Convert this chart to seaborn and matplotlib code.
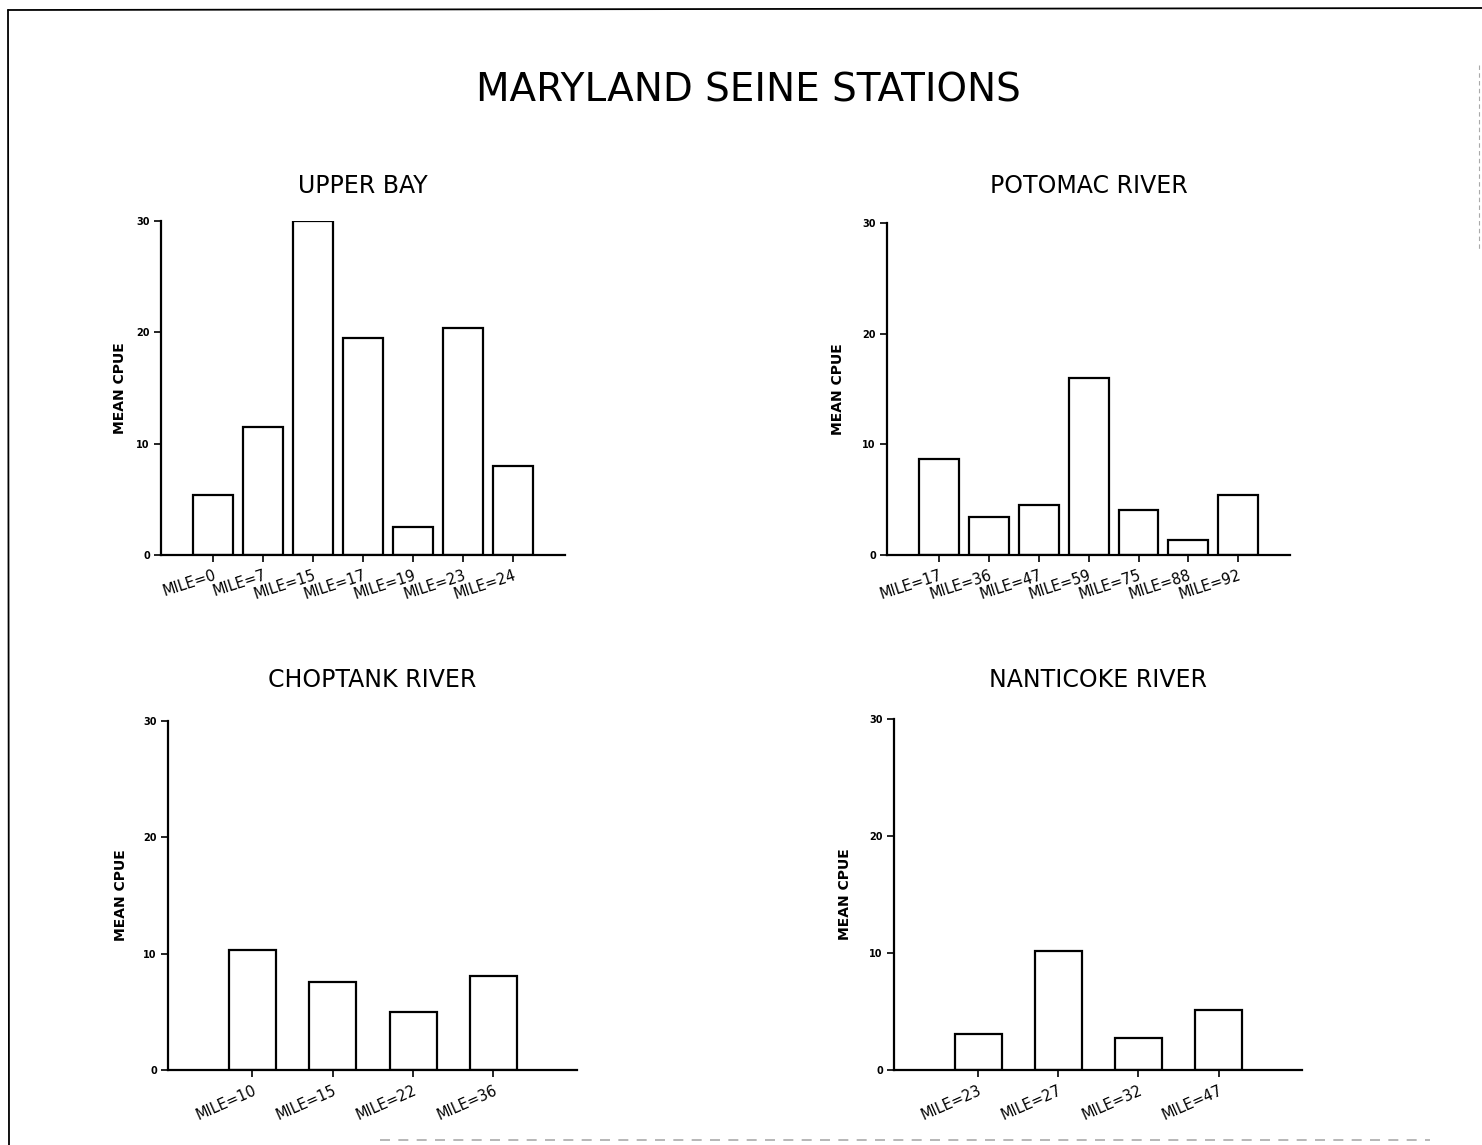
import matplotlib
matplotlib.use("Agg")
import matplotlib.pyplot as plt
import pandas as pd
import seaborn as sns
from matplotlib.lines import Line2D

# mean CPUE per seine station
upper_bay_miles = ["MILE=0", "MILE=7", "MILE=15", "MILE=17", "MILE=19", "MILE=23", "MILE=24"]
upper_bay_cpue = [5.4, 11.5, 30.0, 19.5, 2.5, 20.4, 8.0]

potomac_miles = ["MILE=17", "MILE=36", "MILE=47", "MILE=59", "MILE=75", "MILE=88", "MILE=92"]
potomac_cpue = [8.7, 3.4, 4.5, 16.0, 4.1, 1.4, 5.4]

choptank_miles = ["MILE=10", "MILE=15", "MILE=22", "MILE=36"]
choptank_cpue = [10.3, 7.6, 5.0, 8.1]

nanticoke_miles = ["MILE=23", "MILE=27", "MILE=32", "MILE=47"]
nanticoke_cpue = [3.1, 10.2, 2.7, 5.1]

panels = [
    ("UPPER BAY", upper_bay_miles, upper_bay_cpue),
    ("POTOMAC RIVER", potomac_miles, potomac_cpue),
    ("CHOPTANK RIVER", choptank_miles, choptank_cpue),
    ("NANTICOKE RIVER", nanticoke_miles, nanticoke_cpue),
]

W, H = 1482, 1145

sns.set_style("ticks")
plt.rcParams["font.family"] = ["DejaVu Sans"]
plt.rcParams.update({
    "text.color": "black",
    "axes.labelcolor": "black",
    "xtick.color": "black",
    "ytick.color": "black",
    "axes.edgecolor": "black",
})


def px_box(left, right, top, bottom):
    return [left / W, 1 - bottom / H, (right - left) / W, (bottom - top) / H]


boxes = [
    px_box(161, 565, 221, 555),
    px_box(887, 1290, 223, 555),
    px_box(168, 577, 721, 1070),
    px_box(894, 1302, 719, 1070),
]
title_y = [186, 186, 680, 680]
label_rot = [18, 18, 24, 24]
label_x = [-0.085, -0.105, -0.098, -0.102]

fig = plt.figure(figsize=(W / 100, H / 100), dpi=100)

for (name, miles, cpue), box, ty, rot, lx in zip(panels, boxes, title_y, label_rot, label_x):
    ax = fig.add_axes(box)
    df = pd.DataFrame({"station": miles, "cpue": cpue})
    n = len(miles)
    sns.barplot(
        data=df, x="station", y="cpue", ax=ax,
        color="white", edgecolor="black", linewidth=1.6,
        width=0.8 if n > 5 else 0.585, saturation=1,
    )
    ax.set_xlim(-1.05, n + 0.04)
    ax.set_ylim(0, 30)
    ax.set_yticks([0, 10, 20, 30])
    ax.set_yticklabels(["0", "10", "20", "30"], fontsize=7, fontweight="bold")
    ax.set_xticks(range(n))
    ax.set_xticklabels(miles, rotation=rot, ha="right", rotation_mode="anchor", fontsize=10.5)
    ax.tick_params(axis="both", direction="out", length=5, width=1.2, color="black", pad=3)
    ax.tick_params(axis="x", pad=4)
    ax.set_xlabel("")
    ax.set_ylabel("MEAN CPUE", fontsize=10, fontweight="bold")
    ax.yaxis.set_label_coords(lx, 0.5)
    sns.despine(ax=ax)
    for side in ["left", "bottom"]:
        ax.spines[side].set_linewidth(1.6)
        ax.spines[side].set_color("black")
    ax.set_facecolor("white")

    cx = (box[0] + box[2] / 2)
    fig.text(cx, 1 - ty / H, name, ha="center", va="center", fontsize=17)

fig.text(748 / W, 1 - 91 / H, "MARYLAND SEINE STATIONS", ha="center", va="center", fontsize=28)

# scanned page border
fig.add_artist(Line2D([8 / W, 1.0], [1 - 10 / H, 1 - 8 / H], color="black", lw=1.3))
fig.add_artist(Line2D([8 / W, 9 / W], [1 - 10 / H, 0.0], color="black", lw=1.3))
fig.add_artist(Line2D([1479 / W, 1479 / W], [1 - 65 / H, 1 - 250 / H], color="#aaaaaa", lw=0.8, ls=(0, (4, 3))))
fig.add_artist(Line2D([380 / W, 1430 / W], [1 - 1140 / H, 1 - 1140 / H], color="#aaaaaa", lw=1.2, ls=(0, (6, 5))))

fig.savefig("out.png", dpi=100, facecolor="white")
